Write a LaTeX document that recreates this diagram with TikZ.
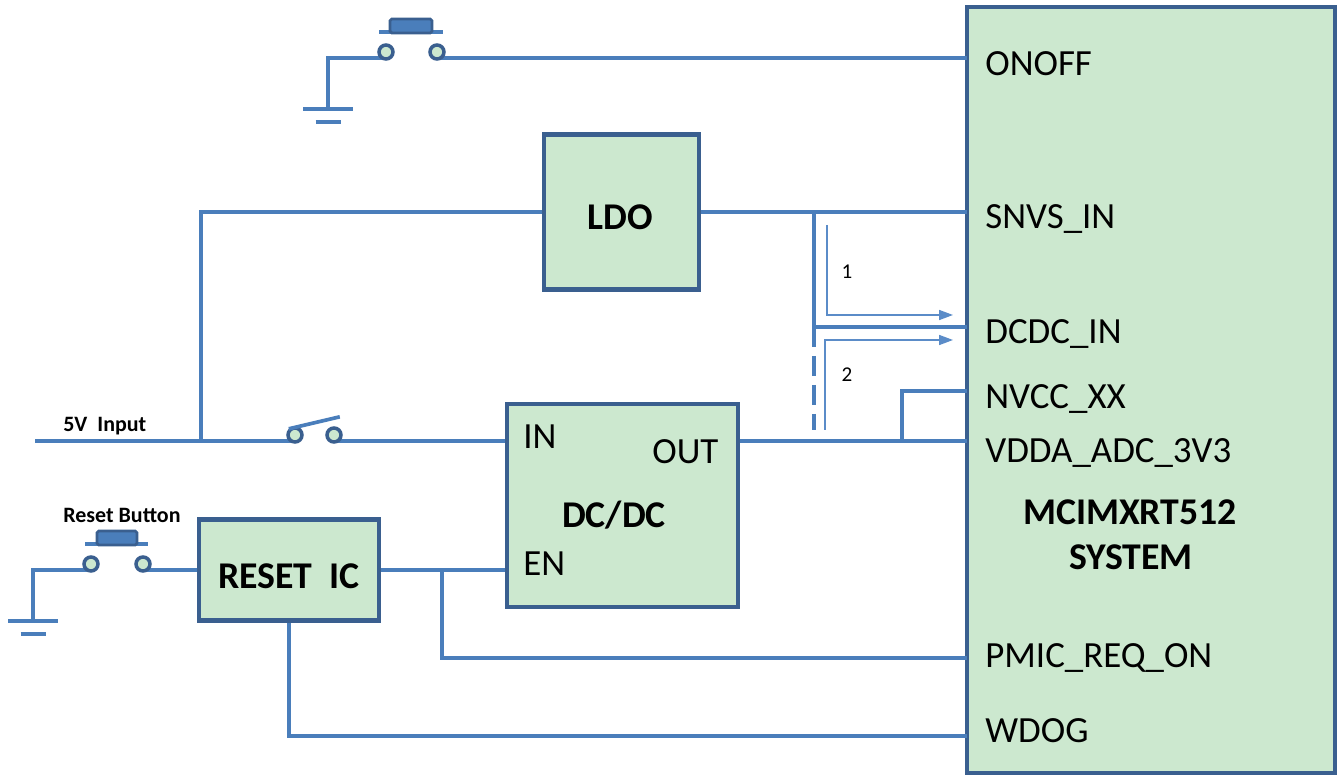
\documentclass[tikz,border=0pt]{standalone}
\usepackage{fontspec}
\setmainfont{Carlito}
\usepackage{xcolor}
\usepackage{tikz}
\usetikzlibrary{arrows.meta,positioning}
\definecolor{wireblue}{HTML}{4A7EBB}
\definecolor{boxline}{HTML}{3A5F8F}
\definecolor{boxfill}{HTML}{CCE8CF}
\definecolor{flowblue}{HTML}{5B8CC8}

\begin{document}
\begin{tikzpicture}[
	x=0.02cm, y=-0.02cm,
	block/.style = {shape=rectangle, draw=boxline, fill=boxfill,
	line width=2.4pt, inner sep=0pt},
	wire/.style = {draw=wireblue, line width=2.1pt},
	flow/.style = {draw=flowblue, line width=0.9pt,
	-{Triangle[length=0.28cm,width=0.2cm]}},
	contact/.style = {shape=circle, draw=boxline, fill=boxfill,
	line width=2pt, minimum size=0.28cm, inner sep=0pt},
	keycap/.style = {draw=boxline, fill=wireblue, line width=1.6pt, rounded corners=1pt},
	pin/.style = {anchor=base west, inner sep=0pt, font=\fontsize{21}{25}\selectfont},
	title/.style = {anchor=base, inner sep=0pt, font=\bfseries\fontsize{21.5}{25}\selectfont},
	note/.style = {anchor=base west, inner sep=0pt, font=\bfseries\fontsize{12.5}{15}\selectfont}
]
\useasboundingbox (0,0) rectangle (1338,776);

% blocks
\node[block, minimum width=7.36cm, minimum height=15.32cm] (mcu) at (1151,390) {};
\node[block, minimum width=3.1cm, minimum height=3.1cm] (ldo) at (621.5,212) {};
\node[block, minimum width=4.62cm, minimum height=4.06cm] (dcdc) at (622.5,505.5) {};
\node[block, minimum width=3.6cm, minimum height=2.02cm] (rst) at (289,570) {};

\node[title] (ldotxt) at (620,230) {LDO};
\node[title] (dcdctxt) at (614,527) {DC/DC};
\node[title] (rsttxt) at (289,588) {RESET\ \ IC};
\node[title] (mcutxt1) at (1130,524) {MCIMXRT512};
\node[title] (mcutxt2) at (1131,569) {SYSTEM};

\node[pin] (intxt) at (523,449) {IN};
\node[pin] (outtxt) at (652,463) {OUT};
\node[pin] (entxt) at (523,575) {EN};

% pins of the system
\coordinate (onoff) at (967,58);
\coordinate (snvs) at (967,212);
\coordinate (dcdcin) at (967,327);
\coordinate (nvcc) at (967,391);
\coordinate (vdda) at (967,441);
\coordinate (pmic) at (967,658);
\coordinate (wdog) at (967,736);

\node[pin] (p1) at (985,76) {ONOFF};
\node[pin] (p2) at (985,229) {SNVS\_IN};
\node[pin] (p3) at (985,344) {DCDC\_IN};
\node[pin] (p4) at (985,409) {NVCC\_XX};
\node[pin] (p5) at (985,462) {VDDA\_ADC\_3V3};
\node[pin] (p6) at (985,667) {PMIC\_REQ\_ON};
\node[pin] (p7) at (985,742) {WDOG};

% junctions and free ends
\coordinate (in5v) at (35,441);
\coordinate (j5v) at (201,441);
\coordinate (jl) at (814,212);
\coordinate (jd) at (814,430);
\coordinate (jn) at (902,441);
\coordinate (jr) at (442,570);
\coordinate (g1) at (328,109);
\coordinate (g2) at (33,621);

% on/off button
\draw[wire] (379,32) -- (443,32);
\draw[keycap] (390,19) rectangle (432,33);
\draw[wire] (386,58) -| (g1);
\draw[wire] (437,58) -- (onoff);
\node[contact] (k1) at (386,52) {};
\node[contact] (k2) at (437,52) {};

% reset button
\draw[wire] (85,544) -- (148,544);
\draw[keycap] (97,531) rectangle (137,545);
\draw[wire] (91,570) -| (g2);
\draw[wire] (143,570) -- (rst.west);
\node[contact] (r1) at (91,564) {};
\node[contact] (r2) at (143,564) {};
\node[note] (rsbtn) at (63,522) {Reset Button};

% grounds
\draw[wire, shift={(g1)}] (-25,0) -- (25,0) (-12.5,13) -- (12.5,13);
\draw[wire, shift={(g2)}] (-25,0) -- (25,0) (-12.5,13) -- (12.5,13);

% 5V input and switch
\draw[wire] (in5v) -- (295,441);
\draw[wire] (334,441) -- (dcdc.west |- in5v);
\draw[wire] (j5v) |- (ldo.west);
\node[contact] (s1) at (295,435) {};
\node[contact] (s2) at (334,435) {};
\draw[wire] (s1.north west) -- ++(51,-12);
\node[note] (v5) at (63,432) {5V\ \ Input};

% supply rails
\draw[wire] (ldo.east) -- (snvs);
\draw[wire] (jl) -- (jl |- dcdcin) -- (dcdcin);
\draw[wire, dash pattern=on 0.4cm off 0.18cm] (jl |- dcdcin) -- (jd);
\draw[wire] (dcdc.east |- vdda) -- (vdda);
\draw[wire] (jn) |- (nvcc);

% power paths
\draw[flow] (827,225) |- (953,315);
\draw[flow] (825,430) |- (953,340);
\node[font=\fontsize{12}{14}\selectfont] (n1) at (847,272) {1};
\node[font=\fontsize{12}{14}\selectfont] (n2) at (847,375) {2};

% reset lines
\draw[wire] (rst.east) -- (rst.east -| dcdc.west);
\draw[wire] (jr) |- (pmic);
\draw[wire] (rst.south) |- (wdog);
\end{tikzpicture}
\end{document}
